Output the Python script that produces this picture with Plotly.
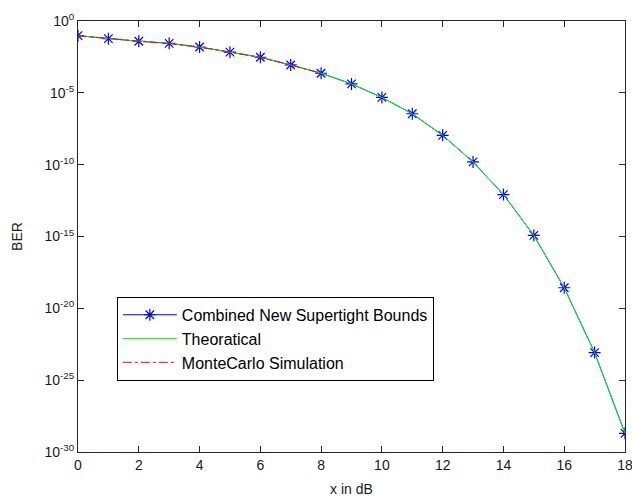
import plotly.graph_objects as go

# Data (x in dB, BER)
x_db = [0, 1, 2, 3, 4, 5, 6, 7, 8, 9, 10, 11, 12, 13, 14, 15, 16, 17, 18]
ber_bounds = [9.5e-2, 5.9e-2, 3.9e-2, 2.8e-2, 1.55e-2, 6.8e-3, 3.0e-3, 8.7e-4,
              2.3e-4, 4.2e-5, 4.8e-6, 3.5e-7, 1.1e-8, 1.55e-10, 8.3e-13,
              1.2e-15, 2.7e-19, 8.3e-24, 2.0e-29]
ber_theory = [9.5e-2, 5.9e-2, 3.9e-2, 2.8e-2, 1.55e-2, 6.8e-3, 3.0e-3, 8.7e-4,
              2.3e-4, 4.2e-5, 4.8e-6, 3.5e-7, 1.1e-8, 1.55e-10, 8.3e-13,
              1.2e-15, 2.7e-19, 8.3e-24, 2.0e-29]
x_mc = [0, 1, 2, 3, 4, 5, 6, 7, 8]
ber_mc = [9.4e-2, 5.8e-2, 3.9e-2, 2.7e-2, 1.5e-2, 6.9e-3, 2.9e-3, 8.6e-4, 2.3e-4]

y_tick_exp = [0, -5, -10, -15, -20, -25, -30]
x_ticks = [0, 2, 4, 6, 8, 10, 12, 14, 16, 18]

FONT = "Liberation Sans, Arial, sans-serif"

fig = go.Figure()
fig.add_trace(go.Scatter(
    x=x_db, y=ber_bounds, mode="lines+markers",
    name="Combined New Supertight Bounds",
    line=dict(color="#0000ff", width=1),
    marker=dict(symbol="asterisk-open", size=10, color="#0000ff",
                line=dict(color="#0000ff", width=1.2)),
))
fig.add_trace(go.Scatter(
    x=x_db, y=ber_theory, mode="lines", name="Theoratical",
    line=dict(color="#00ff00", width=1),
))
fig.add_trace(go.Scatter(
    x=x_mc, y=ber_mc, mode="lines", name="MonteCarlo Simulation",
    line=dict(color="#ff0000", width=1, dash="dashdot"),
))

fig.update_layout(
    width=632, height=497,
    margin=dict(l=78, r=7, t=21, b=45, autoexpand=False),
    paper_bgcolor="white", plot_bgcolor="white",
    font=dict(family=FONT, size=14, color="#1a1a1a"),
    showlegend=True,
    legend=dict(
        x=0.071, y=0.36, xanchor="left", yanchor="top",
        bgcolor="white", bordercolor="#000000", borderwidth=1,
        font=dict(family=FONT, size=16, color="#000000"),
        itemwidth=54, tracegroupgap=0,
    ),
)
fig.update_xaxes(
    range=[0, 18], tickvals=x_ticks, ticks="inside", ticklen=6,
    tickcolor="#262626", showline=True, linecolor="#262626", linewidth=1,
    mirror="ticks", showgrid=False, zeroline=False, automargin=False,
    tickfont=dict(size=14), ticklabeloverflow="allow",
    title=dict(text="x in dB", font=dict(size=14), standoff=12),
)
fig.update_yaxes(
    type="log", range=[-30, 0],
    tickvals=[10.0 ** e for e in y_tick_exp],
    ticktext=["10<sup>%d</sup>" % e for e in y_tick_exp],
    ticks="inside", ticklen=6, tickcolor="#262626",
    showline=True, linecolor="#262626", linewidth=1, mirror="ticks",
    showgrid=False, zeroline=False, tickfont=dict(size=14), automargin=False,
    title=dict(text="BER", font=dict(size=14), standoff=18),
)

fig.write_html("out.html")
